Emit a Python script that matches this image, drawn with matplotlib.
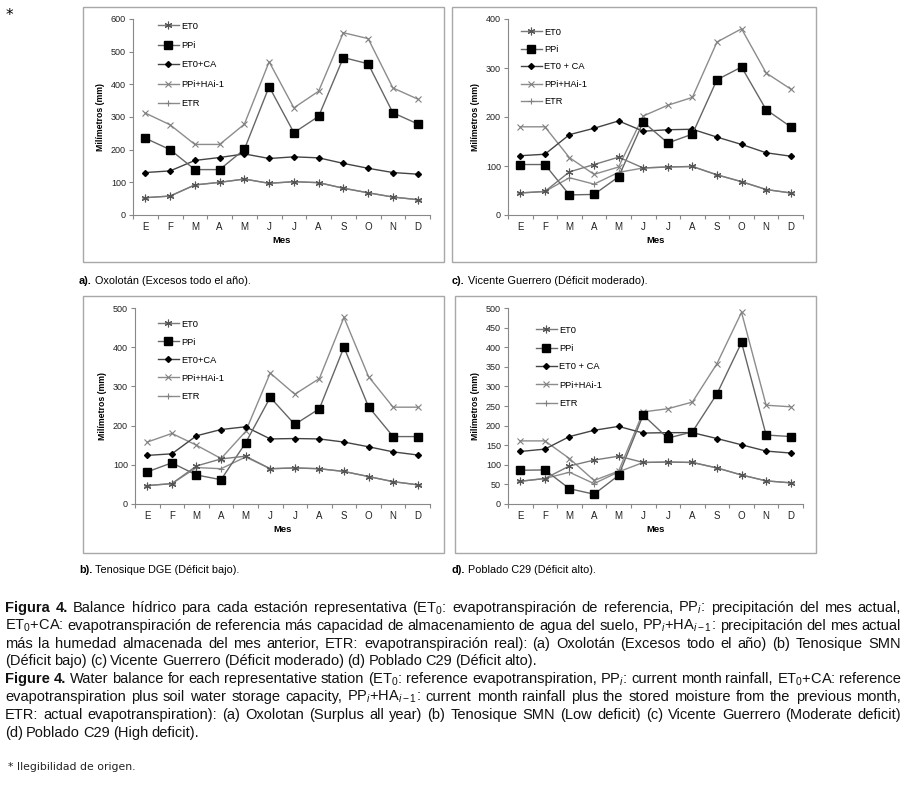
import matplotlib
matplotlib.use("Agg")
import matplotlib.pyplot as plt
from matplotlib import font_manager
from matplotlib.patches import Rectangle

W, H = 906, 790

meses = ['E', 'F', 'M', 'A', 'M', 'J', 'J', 'A', 'S', 'O', 'N', 'D']
series = ['ET0', 'PPi', 'ET0+CA', 'PPi+HAi-1', 'ETR']

# a) Oxolotan
a_et0 = [53, 58, 92, 100, 110, 97, 102, 99, 82, 68, 55, 47]
a_ppi = [235, 200, 139, 139, 201, 393, 252, 302, 482, 463, 313, 279]
a_etca = [130, 135, 167, 176, 187, 173, 178, 175, 158, 143, 130, 125]
a_ppha = [312, 276, 216, 216, 278, 469, 328, 379, 558, 540, 389, 355]
a_etr = [53, 58, 92, 100, 110, 97, 102, 99, 82, 68, 55, 47]

# c) Vicente Guerrero
c_et0 = [45, 48, 88, 103, 118, 96, 98, 99, 82, 68, 52, 45]
c_ppi = [103, 103, 41, 42, 78, 190, 147, 165, 276, 302, 215, 180]
c_etca = [121, 124, 164, 177, 192, 171, 174, 175, 159, 144, 127, 120]
c_ppha = [180, 180, 117, 83, 98, 202, 224, 240, 353, 380, 290, 257]
c_etr = [45, 48, 76, 63, 87, 96, 98, 99, 82, 68, 52, 45]

# b) Tenosique
b_et0 = [47, 52, 97, 115, 122, 90, 92, 90, 83, 70, 57, 49]
b_ppi = [82, 105, 74, 62, 156, 272, 203, 243, 400, 248, 172, 172]
b_etca = [124, 128, 174, 190, 197, 166, 167, 166, 158, 146, 133, 125]
b_ppha = [158, 180, 150, 116, 185, 334, 280, 320, 476, 325, 247, 247]
b_etr = [47, 52, 93, 90, 120, 90, 92, 90, 83, 70, 57, 49]

# d) Poblado C29
d_et0 = [58, 65, 97, 112, 122, 106, 107, 106, 92, 74, 59, 54]
d_ppi = [86, 87, 39, 25, 73, 227, 168, 184, 281, 412, 176, 172]
d_etca = [134, 140, 172, 188, 198, 181, 182, 182, 167, 151, 135, 130]
d_ppha = [161, 161, 116, 60, 84, 235, 243, 260, 358, 489, 252, 248]
d_etr = [58, 65, 81, 52, 82, 106, 107, 106, 92, 74, 59, 54]

fig = plt.figure(figsize=(W / 100, H / 100), dpi=100)
fig.patch.set_facecolor('white')

names = {f.name for f in font_manager.fontManager.ttflist}
chart_font = 'Liberation Sans' if 'Liberation Sans' in names else 'DejaVu Sans'
cap_font = 'Liberation Sans Narrow' if 'Liberation Sans Narrow' in names else chart_font

plt.rcParams['mathtext.fontset'] = 'custom'
plt.rcParams['mathtext.rm'] = cap_font
plt.rcParams['mathtext.it'] = cap_font + ':italic'


def px(x, y):
    return x / W, 1 - y / H


def frame(x0, y0, x1, y1):
    fig.patches.append(Rectangle(px(x0, y1), (x1 - x0) / W, (y1 - y0) / H,
                                 transform=fig.transFigure, fill=False,
                                 edgecolor='#a8a8a8', lw=1.0))


estilos = [
    dict(color='#7a7a7a', marker=(6, 2, 0), ms=5.5, mec='#555555', mew=0.8),
    dict(color='#666666', marker='s', ms=5.5, mfc='black', mec='black'),
    dict(color='#444444', marker='D', ms=3, mfc='black', mec='black'),
    dict(color='#8c8c8c', marker='x', ms=5, mec='#808080', mew=0.8),
    dict(color='#8c8c8c', marker='+', ms=5, mec='#808080', mew=0.8),
]
etiquetas_c = ['ET0', 'PPi', 'ET0 + CA', 'PPi+HAi-1', 'ETR']


def panel(box, datos, ymax, ystep, leg_xy, leg_sp, labels):
    x0, y0, x1, y1 = box
    ax = fig.add_axes([x0 / W, 1 - y1 / H, (x1 - x0) / W, (y1 - y0) / H])
    xs = list(range(12))
    handles = {}
    for i in [4, 3, 2, 1, 0]:
        ln, = ax.plot(xs, datos[i], lw=1.0, **estilos[i])
        handles[i] = ln
    ax.set_xlim(-0.5, 11.5)
    ax.set_ylim(0, ymax)
    ax.set_yticks(range(0, ymax + 1, ystep))
    ax.set_xticks(xs)
    ax.set_xticklabels(meses)
    ax.set_xticks([k - 0.5 for k in range(13)], minor=True)
    ax.tick_params(axis='x', which='major', length=0, pad=5, labelsize=7, labelcolor='#222222')
    ax.tick_params(axis='x', which='minor', length=3, color='#888888', width=0.8)
    ax.tick_params(axis='y', length=3, color='#888888', width=0.8, labelsize=6.5, pad=2,
                   labelcolor='#222222')
    for s in ['top', 'right']:
        ax.spines[s].set_visible(False)
    for s in ['left', 'bottom']:
        ax.spines[s].set_color('#888888')
        ax.spines[s].set_linewidth(0.8)
    for lab in ax.get_xticklabels() + ax.get_yticklabels():
        lab.set_family(chart_font)
    ax.set_ylabel('Milímetros (mm)', fontsize=6.3, fontweight='bold', family=chart_font, labelpad=4)
    ax.set_xlabel('Mes', fontsize=6.8, fontweight='bold', family=chart_font, labelpad=3)
    ax.set_facecolor('none')
    ax.legend([handles[i] for i in range(5)], labels, loc='upper left',
              bbox_to_anchor=px(*leg_xy), bbox_transform=fig.transFigure,
              frameon=False, borderpad=0, handlelength=2.3, handletextpad=0.2,
              labelspacing=leg_sp, prop={'family': chart_font, 'size': 6.7})
    return ax


frame(83, 7, 444, 262)
frame(452, 7, 816, 262)
frame(83, 296, 444, 553)
frame(455, 296, 816, 553)

panel((133, 19, 430, 215), [a_et0, a_ppi, a_etca, a_ppha, a_etr], 600, 100,
      (153, 17), 1.12, ['ET0', 'PPi', 'ET0+CA', 'PPi+HAi-1', 'ETR'])
panel((508, 19, 803, 215), [c_et0, c_ppi, c_etca, c_ppha, c_etr], 400, 100,
      (516, 23), 0.9, etiquetas_c)
panel((135, 308, 430, 504), [b_et0, b_ppi, b_etca, b_ppha, b_etr], 500, 100,
      (153, 315), 0.97, ['ET0', 'PPi', 'ET0+CA', 'PPi+HAi-1', 'ETR'])
panel((508, 308, 803, 504), [d_et0, d_ppi, d_etca, d_ppha, d_etr], 500, 50,
      (531, 321), 1.0, etiquetas_c)

renderer = fig.canvas.get_renderer()


def rotulo(x, y, negrita, resto, size=7.8):
    t1 = fig.text(*px(x, y), negrita, fontsize=size, fontweight='bold', family=chart_font, va='baseline')
    w = t1.get_window_extent(renderer).width
    fig.text(*px(x + w + 3, y), resto, fontsize=size, family=chart_font, va='baseline')


rotulo(79, 284, 'a).', 'Oxolotán (Excesos todo el año).')
rotulo(452, 284, 'c).', 'Vicente Guerrero (Déficit moderado).')
rotulo(79, 573, 'b).', 'Tenosique DGE (Déficit bajo).')
rotulo(452, 573, 'd).', 'Poblado C29 (Déficit alto).')

fig.text(*px(6, 20), '*', fontsize=11, family='DejaVu Sans', va='baseline')

ET0 = r'$\mathregular{ET_0}$'
PPI = r'$\mathregular{PP}_i$'
PPHA = r'$\mathregular{PP}_i$+$\mathregular{HA}_{i-1}$'
ETCA = r'$\mathregular{ET_0}$+CA'

lineas = [
    ('Figura 4. Balance hídrico para cada estación representativa (' + ET0 + ': evapotranspiración de referencia, '
     + PPI + ': precipitación del mes actual,', True, 2),
    (ETCA + ': evapotranspiración de referencia más capacidad de almacenamiento de agua del suelo, '
     + PPHA + ': precipitación del mes actual', True, 0),
    ('más la humedad almacenada del mes anterior, ETR: evapotranspiración real): (a) Oxolotán (Excesos todo el año) (b) Tenosique SMN',
     True, 0),
    ('(Déficit bajo) (c) Vicente Guerrero (Déficit moderado) (d) Poblado C29 (Déficit alto).', False, 0),
    ('Figure 4. Water balance for each representative station (' + ET0 + ': reference evapotranspiration, '
     + PPI + ': current month rainfall, ' + ETCA + ': reference', True, 2),
    ('evapotranspiration plus soil water storage capacity, ' + PPHA
     + ': current month rainfall plus the stored moisture from the previous month,', True, 0),
    ('ETR: actual evapotranspiration): (a) Oxolotan (Surplus all year) (b) Tenosique SMN (Low deficit) (c) Vicente Guerrero (Moderate deficit)',
     True, 0),
    ('(d) Poblado C29 (High deficit).', False, 0),
]

xa, xb = 5, 901
for k, (linea, justificar, nb) in enumerate(lineas):
    y = 612 + 17.8 * k
    palabras = linea.split(' ')
    size = 10.5
    while True:
        objs = []
        for j, p in enumerate(palabras):
            t = fig.text(*px(0, y), p, fontsize=size, family=cap_font, va='baseline',
                         fontweight='bold' if j < nb else 'normal', color='#111111')
            objs.append(t)
        anchos = [t.get_window_extent(renderer).width for t in objs]
        hueco = (xb - xa - sum(anchos)) / (len(objs) - 1)
        if hueco >= 2.5 or not justificar:
            break
        for t in objs:
            t.remove()
        size -= 0.25
    if not justificar:
        hueco = size * 0.3
    x = xa
    for t, a in zip(objs, anchos):
        t.set_x(x / W)
        x += a + hueco

fig.text(*px(8, 770), '* Ilegibilidad de origen.', fontsize=7.8, family='DejaVu Sans',
         va='baseline', color='#222222')

fig.savefig('out.png', dpi=100)
